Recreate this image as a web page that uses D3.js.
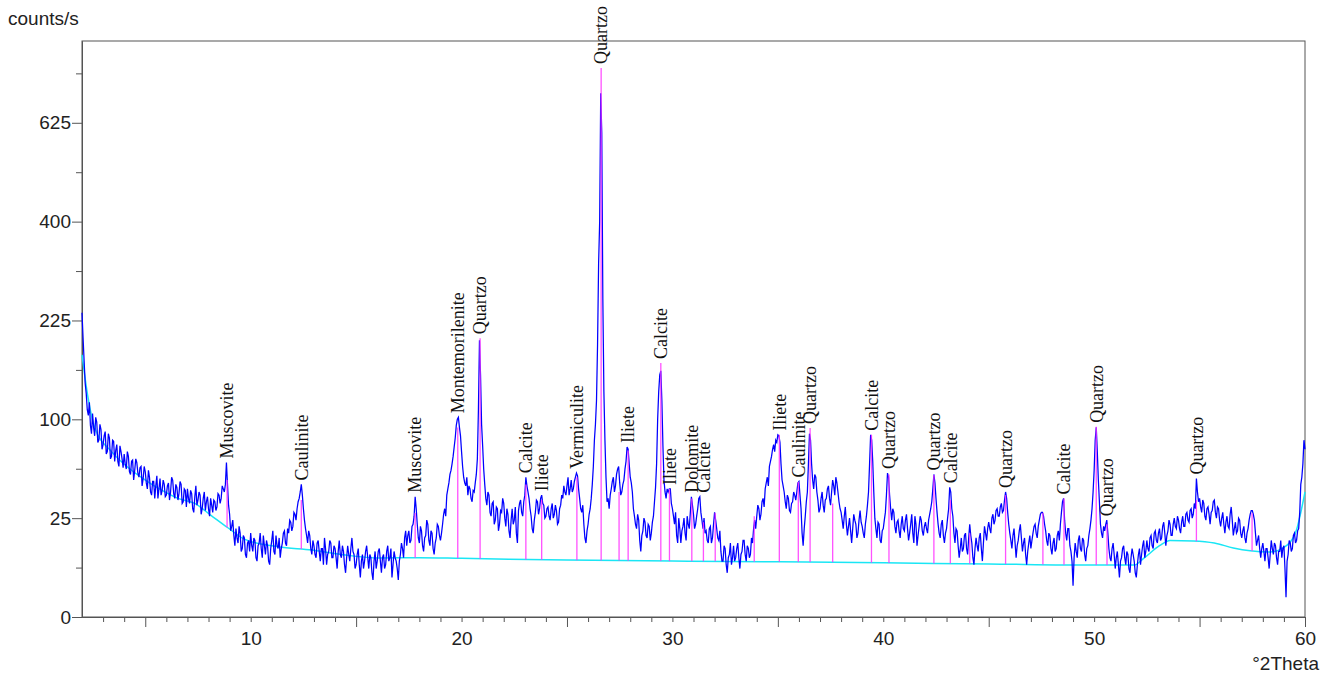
<!DOCTYPE html>
<html>
<head>
<meta charset="utf-8">
<script src="https://cdn.jsdelivr.net/npm/d3@7"></script>
<style>
  body { margin: 0; background: #fff; }
  svg { display: block; }
  .axis text { font-family: "Liberation Sans", Arial, sans-serif; font-size: 19px; fill: #222; }
  .axis line, .axis path { stroke: #555; }
  .lbl { font-family: "Liberation Serif", "Times New Roman", serif; font-size: 18px; fill: #111; }
</style>
</head>
<body>
<svg width="1338" height="677"></svg>
<script>
// scan grid (deg 2theta)
var thetaStart = 2, thetaStep = 0.05;

// counts/s, one row per degree (x.00 .. x.95)
var counts = [
  237, 200, 168, 140, 128, 110, 104, 118, 94, 86, 106, 92, 84, 102, 97, 78, 80, 95, 90, 72,
  76, 84, 88, 68, 70, 86, 82, 64, 66, 80, 79, 62, 71, 76, 62, 58, 75, 70, 64, 57,
  68, 60, 56, 70, 66, 54, 52, 62, 63, 48, 55, 64, 61, 53, 50, 57, 58, 44, 49, 58,
  54, 46, 42, 55, 50, 40, 38, 47, 47, 36, 44, 51, 36, 42, 49, 38, 41, 48, 45, 37,
  38, 44, 46, 35, 40, 50, 48, 39, 36, 45, 43, 35, 39, 47, 45, 33, 34, 42, 41, 31,
  42, 36, 33, 41, 39, 30, 28, 37, 44, 32, 35, 40, 38, 27, 30, 36, 40, 29, 34, 37,
  30, 26, 36, 32, 28, 35, 34, 29, 31, 39, 38, 33, 36, 44, 42, 40, 45, 61, 45, 32,
  27, 19, 21, 24, 17, 13, 20, 16, 14, 21, 18, 11, 12, 17, 16, 10, 9, 14, 15, 11,
  18, 13, 11, 16, 15, 9, 8, 13, 14, 18, 12, 9, 17, 13, 10, 15, 13, 8, 7, 12,
  15, 19, 11, 10, 17, 13, 12, 16, 9, 12, 14, 18, 19, 14, 13, 20, 18, 24, 23, 19,
  21, 28, 27, 24, 30, 34, 36, 40, 45, 38, 30, 24, 20, 17, 14, 19, 17, 12, 10, 15,
  13, 10, 9, 14, 15, 11, 8, 12, 12, 7, 16, 12, 7, 10, 11, 15, 14, 9, 9, 13,
  12, 9, 6, 11, 15, 10, 9, 13, 11, 7, 5, 9, 13, 10, 8, 12, 16, 11, 10, 6,
  7, 10, 12, 7, 4, 8, 10, 6, 8, 11, 13, 9, 6, 10, 9, 5, 3.5, 8, 11, 6,
  8, 11, 12, 8, 5, 9, 10, 6, 7, 11, 13, 8, 9, 12, 4, 7, 11, 9, 8, 6,
  3.5, 8, 10, 14, 12, 9, 16, 19, 13, 17, 19, 14, 15, 21, 22, 26, 37, 30, 22, 16,
  14, 21, 19, 13, 11, 16, 17, 24, 22, 15, 13, 19, 18, 12, 10, 14, 16, 22, 21, 17,
  15, 18, 22, 27, 30, 26, 38, 42, 46, 52, 55, 60, 66, 74, 82, 94, 100, 102, 92, 84,
  70, 58, 50, 46, 44, 50, 38, 44, 42, 36, 34, 41, 40, 46, 52, 64, 110, 196, 150, 95,
  75, 56, 45, 36, 32, 40, 38, 28, 26, 33, 34, 22, 24, 31, 30, 19, 22, 29, 28, 36,
  33, 25, 21, 30, 27, 19, 16, 24, 30, 22, 24, 31, 18, 14, 29, 33, 35, 28, 26, 34,
  38, 50, 44, 40, 36, 30, 26, 20, 18, 24, 28, 35, 34, 27, 30, 36, 38, 33, 32, 25,
  26, 30, 31, 26, 24, 30, 33, 25, 27, 32, 29, 22, 23, 30, 32, 38, 36, 44, 40, 38,
  44, 50, 38, 42, 48, 40, 42, 47, 50, 53, 51, 42, 36, 30, 28, 32, 22, 16, 14, 19,
  22, 27, 30, 36, 45, 58, 80, 95, 120, 190, 320, 400, 702, 600, 260, 130, 80, 50, 34, 36,
  30, 38, 42, 47, 50, 40, 44, 52, 56, 58, 46, 38, 40, 45, 48, 56, 62, 74, 72, 60,
  50, 46, 40, 30, 26, 22, 20, 27, 24, 15, 11, 17, 19, 25, 23, 17, 16, 22, 21, 15,
  18, 23, 26, 34, 43, 60, 100, 130, 150, 155, 120, 75, 48, 40, 36, 42, 40, 42, 42, 33,
  30, 26, 22, 28, 17, 14, 25, 20, 14, 19, 21, 25, 18, 15, 26, 22, 20, 28, 37, 32,
  27, 20, 22, 26, 30, 36, 37, 28, 24, 20, 25, 18, 19, 15, 14, 20, 21, 14, 16, 22,
  28, 24, 20, 16, 15, 19, 11, 8, 8, 13, 12, 7, 5, 9, 10, 14, 7, 9, 13, 8,
  9, 12, 14, 9, 6, 10, 11, 15, 15, 10, 8, 13, 12, 9, 10, 16, 14, 20, 24, 20,
  26, 32, 30, 24, 27, 34, 36, 31, 42, 46, 50, 44, 58, 62, 66, 72, 76, 70, 80, 78,
  85, 84, 78, 60, 48, 44, 40, 34, 30, 38, 36, 29, 28, 33, 34, 40, 38, 35, 40, 46,
  47, 38, 30, 18, 13, 20, 26, 34, 40, 60, 86, 80, 60, 48, 42, 52, 50, 40, 35, 28,
  30, 36, 40, 32, 28, 35, 36, 42, 44, 36, 32, 40, 48, 44, 38, 50, 46, 40, 34, 30,
  28, 24, 20, 26, 31, 22, 17, 21, 25, 19, 14, 20, 27, 24, 22, 16, 18, 24, 29, 23,
  21, 18, 16, 22, 26, 32, 40, 60, 85, 80, 62, 40, 25, 20, 16, 23, 22, 15, 14, 19,
  20, 24, 28, 38, 53, 50, 38, 30, 24, 30, 28, 21, 18, 23, 24, 19, 16, 22, 26, 20,
  19, 24, 27, 20, 15, 18, 22, 27, 18, 14, 26, 22, 13, 17, 21, 26, 24, 19, 17, 21,
  23, 20, 18, 24, 27, 30, 34, 42, 52, 46, 36, 28, 22, 18, 16, 22, 24, 17, 14, 18,
  20, 25, 30, 43, 40, 30, 26, 18, 14, 20, 19, 13, 9, 12, 16, 11, 12, 17, 18, 12,
  10, 16, 22, 17, 14, 9, 7, 12, 16, 13, 11, 16, 18, 12, 8, 14, 21, 18, 15, 20,
  23, 20, 18, 25, 27, 22, 24, 29, 30, 26, 26, 31, 33, 28, 29, 35, 40, 36, 28, 22,
  18, 15, 12, 17, 20, 14, 9, 13, 15, 19, 22, 16, 11, 14, 16, 10, 7, 11, 14, 17,
  12, 15, 18, 21, 22, 18, 16, 21, 24, 27, 28, 28, 26, 22, 19, 15, 13, 18, 17, 12,
  10, 14, 16, 11, 12, 17, 19, 15, 22, 28, 34, 36, 24, 18, 15, 20, 20, 13, 11, 8,
  2.5, 9, 14, 11, 9, 15, 17, 12, 11, 16, 15, 10, 8, 12, 13, 17, 20, 24, 30, 40,
  55, 80, 92, 70, 48, 34, 22, 18, 16, 21, 19, 22, 24, 18, 12, 9, 8, 12, 14, 10,
  6, 9, 11, 7, 4, 8, 9, 12, 13, 9, 7, 11, 10, 6, 5, 9, 12, 10, 8, 5,
  4, 7, 10, 12, 7, 10, 13, 15, 9, 11, 15, 12, 11, 16, 17, 13, 12, 18, 19, 15,
  14, 18, 20, 15, 16, 21, 23, 18, 13, 17, 19, 24, 22, 17, 17, 22, 25, 21, 20, 26,
  24, 20, 18, 23, 26, 21, 21, 27, 28, 24, 23, 29, 30, 25, 27, 33, 30, 49, 40, 34,
  36, 31, 28, 35, 33, 26, 24, 30, 31, 27, 22, 28, 29, 34, 35, 28, 25, 31, 30, 24,
  21, 25, 28, 22, 18, 23, 26, 21, 20, 27, 31, 24, 17, 20, 23, 18, 19, 25, 24, 18,
  16, 19, 21, 16, 14, 18, 20, 24, 27, 29, 29, 27, 24, 18, 13, 15, 17, 12, 9, 12,
  14, 11, 8, 12, 12, 9, 6, 10, 15, 12, 10, 14, 13, 9, 7, 11, 11, 15, 9, 12,
  13, 6, 1, 8, 10, 15, 14, 11, 12, 17, 18, 14, 15, 19, 20, 28, 45, 50, 60, 80,
  72
];

// fitted background
var bgTheta = [2, 2.28, 2.6, 3.4, 4.2, 5, 5.8, 6.55, 7.35, 8.1, 8.9, 9.7, 11.3, 12.9, 14.5, 16.1, 18, 20, 25, 30, 35, 40, 45, 50, 51.9, 52.35, 53.1, 53.6, 54.7, 55.7, 56.6, 57.4, 58.35, 59.15, 59.6, 59.94, 60];
var bgCounts = [176, 124, 92, 70, 57, 48, 41, 36, 33, 26.6, 20.5, 15.5, 12.6, 11.5, 9.8, 8.9, 9, 8.8, 8.3, 8, 7.8, 7.5, 7.2, 6.9, 6.9, 8.8, 13, 15, 14.8, 14, 12.2, 11.2, 10.8, 13.2, 19.5, 36, 40];

// identified peaks
var peakTheta = [8.88, 12.4, 17.8, 19.82, 20.88, 23.05, 23.8, 25.47, 26.62, 27.47, 27.9, 29.45, 29.86, 30.92, 31.47, 32.03, 33.88, 35.07, 35.97, 36.53, 37.6, 39.44, 40.27, 42.4, 43.18, 44.1, 45.8, 47.57, 48.57, 50.1, 50.61, 54.85, 57.49];
var peakCounts = [48, 35, 27.7, 92, 199, 45, 35, 50, 771, 40, 71, 165, 42, 36, 23, 27.7, 26, 85, 46.7, 91.5, 33, 85, 52, 51.6, 35, 18, 38, 27.7, 36, 92.5, 22, 35, 27.7];
var peakNames = ["Muscovite", "Caulinite", "Muscovite", "Montemorilenite", "Quartzo", "Calcite", "Iliete", "Vermiculite", "Quartzo", "", "Iliete", "Calcite", "Iliete", "Dolomite", "Calcite", "", "", "Iliete", "Caulinite", "Quartzo", "", "Calcite", "Quartzo", "Quartzo", "Calcite", "", "Quartzo", "", "Calcite", "Quartzo", "Quartzo", "Quartzo", ""];

var yLabelTicks = [0, 25, 100, 225, 400, 625];
var yMinorTicks = [6.25, 56.25, 156.25, 306.25, 506.25, 756.25];
var xLabelTicks = [10, 20, 30, 40, 50, 60];
var xLongTicks = [5, 15, 25, 35, 45, 55, 60];

(function(){
  var svg = d3.select('svg'),
      plotLeft = 82, plotRight = 1305, plotTop = 41, plotBottom = 617;

  var x = d3.scaleLinear().domain([2, 60]).range([plotLeft, plotRight]);
  var y = d3.scaleSqrt().domain([0, 849]).range([plotBottom, plotTop]);

  var scan = counts.map(function(c, i) { return {t: thetaStart + i * thetaStep, c: c}; });
  var bg = bgTheta.map(function(t, i) { return {t: t, c: bgCounts[i]}; });

  // background level under a stick
  function bgAt(t) {
    var i = d3.bisector(function(d) { return d.t; }).left(bg, t);
    if (i <= 0) return bg[0].c;
    var a = bg[i - 1], b = bg[i];
    return a.c + (b.c - a.c) * (t - a.t) / (b.t - a.t);
  }

  // axes
  var minorX = d3.range(3, 60).filter(function(v) { return xLongTicks.indexOf(v) < 0; });
  svg.append("g").attr("class", "axis")
    .attr("transform", "translate(0," + plotBottom + ")")
    .call(d3.axisBottom(x).tickValues(minorX).tickSize(5).tickSizeOuter(0).tickFormat(""));
  svg.append("g").attr("class", "axis")
    .attr("transform", "translate(0," + plotBottom + ")")
    .call(d3.axisBottom(x).tickValues(xLongTicks).tickSize(10).tickSizeOuter(0).tickFormat(""));
  svg.append("g").attr("class", "axis")
    .attr("transform", "translate(0," + plotBottom + ")")
    .call(d3.axisBottom(x).tickValues(xLabelTicks).tickSize(0).tickPadding(15).tickSizeOuter(0))
    .call(function(g) { g.select(".domain").remove(); });

  svg.append("g").attr("class", "axis")
    .attr("transform", "translate(" + plotLeft + ",0)")
    .call(d3.axisLeft(y).tickValues(yMinorTicks).tickSize(6).tickSizeOuter(0).tickFormat(""));
  svg.append("g").attr("class", "axis")
    .attr("transform", "translate(" + plotLeft + ",0)")
    .call(d3.axisLeft(y).tickValues(yLabelTicks).tickSize(10).tickPadding(1).tickSizeOuter(0).tickFormat(d3.format("d")));

  svg.append("rect")
    .attr("x", plotLeft).attr("y", plotTop)
    .attr("width", plotRight - plotLeft).attr("height", plotBottom - plotTop)
    .attr("fill", "none").attr("stroke", "#555");

  svg.append("text")
    .attr("x", 8).attr("y", 25)
    .style("font-family", "Liberation Sans, Arial, sans-serif").style("font-size", "19px").attr("fill", "#222")
    .text("counts/s");
  svg.append("text")
    .attr("x", 1319).attr("y", 670).attr("text-anchor", "end")
    .style("font-family", "Liberation Sans, Arial, sans-serif").style("font-size", "19px").attr("fill", "#222")
    .text("°2Theta");

  // background, scan, sticks
  svg.append("path").datum(bg)
    .attr("fill", "none").attr("stroke", "#1ae6f5").attr("stroke-width", 1.5)
    .attr("d", d3.line().curve(d3.curveMonotoneX).x(function(d) { return x(d.t); }).y(function(d) { return y(d.c); }));

  svg.append("path").datum(scan)
    .attr("fill", "none").attr("stroke", "#0000ff").attr("stroke-width", 1.25)
    .attr("d", d3.line().x(function(d) { return x(d.t); }).y(function(d) { return y(d.c); }));

  svg.append("g").selectAll("line")
    .data(peakTheta)
    .enter().append("line")
    .attr("x1", function(d) { return x(d); })
    .attr("x2", function(d) { return x(d); })
    .attr("y1", function(d) { return y(bgAt(d)); })
    .attr("y2", function(d, i) { return y(peakCounts[i]); })
    .attr("stroke", "#ff33ff").attr("stroke-opacity", 0.85).attr("stroke-width", 1.3);

  // labels sit just above the highest point near the peak
  svg.append("g").selectAll("text")
    .data(peakTheta.filter(function(d, i) { return peakNames[i]; }))
    .enter().append("text")
    .attr("class", "lbl")
    .attr("transform", function(d) {
      var i = peakTheta.indexOf(d);
      var near = scan.filter(function(s) { return Math.abs(s.t - d) <= 0.2; });
      var peakTop = Math.max(peakCounts[i], d3.max(near, function(s) { return s.c; }));
      return "translate(" + x(d) + "," + (y(peakTop) - 4) + ") rotate(-90)";
    })
    .attr("dy", "0.35em")
    .text(function(d) { return peakNames[peakTheta.indexOf(d)]; });
}());
</script>
</body>
</html>
